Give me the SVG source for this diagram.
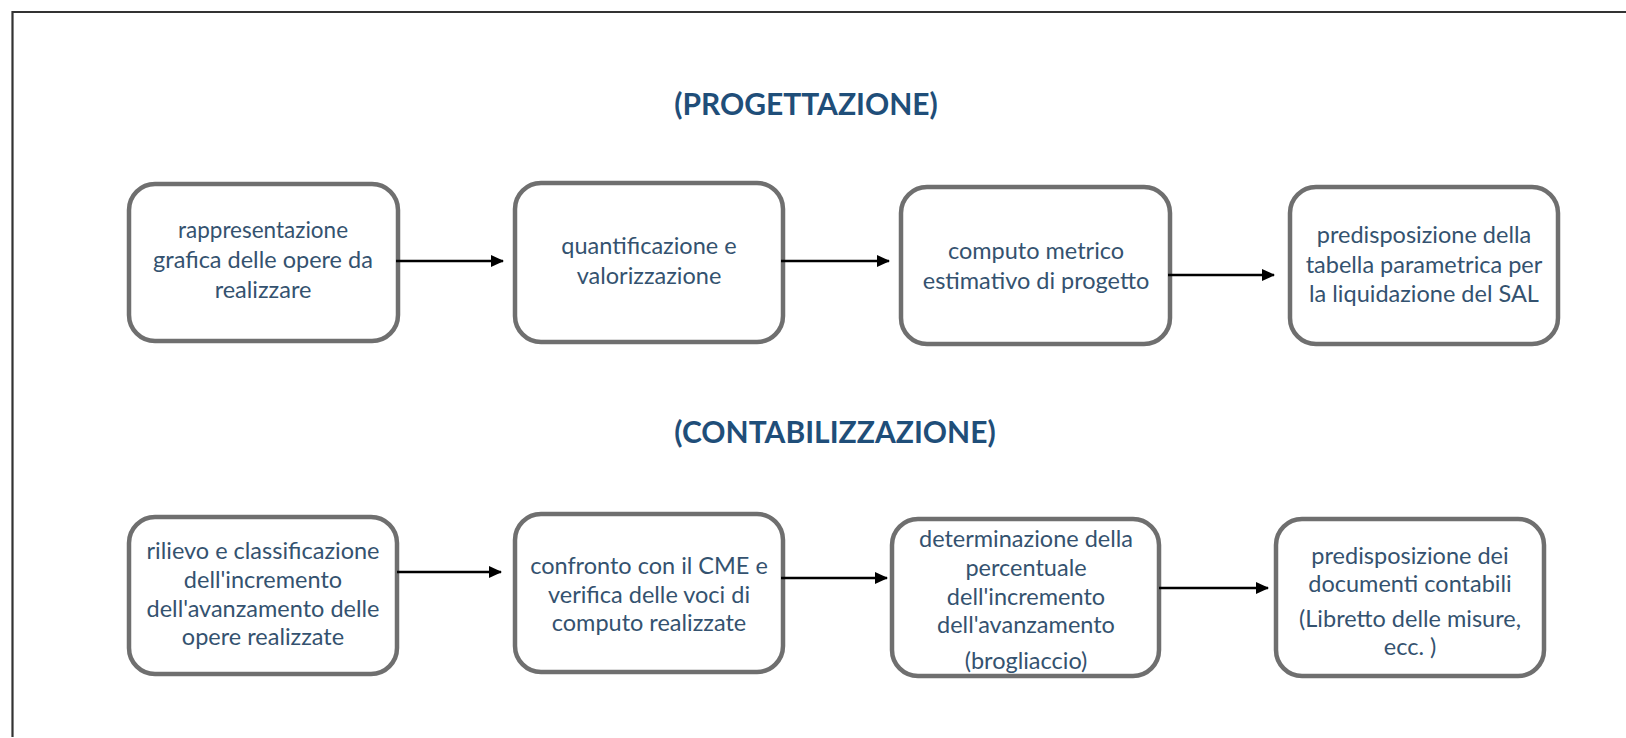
<svg xmlns="http://www.w3.org/2000/svg" width="1626" height="738" viewBox="0 0 1626 738">
<style>
.box{fill:#ffffff;stroke:#6f6f6f;stroke-width:4.5}
.t{font-family:Lato,"Open Sans","Liberation Sans",sans-serif;font-size:23.5px;fill:#34526f;text-anchor:middle}
.h{font-family:Lato,"Open Sans","Liberation Sans",sans-serif;font-size:30px;font-weight:bold;fill:#1f4e79;text-anchor:middle}
.c{stroke:#000;stroke-width:2.5;fill:none}
</style>
<defs>
<marker id="ah" markerWidth="13" markerHeight="12" refX="12" refY="6" orient="auto" markerUnits="userSpaceOnUse">
<path d="M0,0 L13,6 L0,12 Z" fill="#000"/>
</marker>
</defs>
<rect x="0" y="0" width="1626" height="738" fill="#ffffff"/>
<path d="M12.5,737 L12.5,12 L1626,12" fill="none" stroke="#333" stroke-width="2.2"/>
<g id="titles">
<text class="h" x="806" y="115">(PROGETTAZIONE)</text>
<text class="h" x="835" y="443">(CONTABILIZZAZIONE)</text>
</g>
<g id="n1"><rect class="box" x="129" y="184" width="269" height="157" rx="26"/>
<text class="t" x="263" y="238" style="font-size:22.5px">rappresentazione</text><text class="t" x="263" y="268">grafica delle opere da</text><text class="t" x="263" y="298">realizzare</text></g>
<g id="n2"><rect class="box" x="515" y="183" width="268" height="159" rx="26"/>
<text class="t" x="649" y="254">quantificazione e</text><text class="t" x="649" y="284">valorizzazione</text></g>
<g id="n3"><rect class="box" x="901" y="187" width="269" height="157" rx="26"/>
<text class="t" x="1036" y="259">computo metrico</text><text class="t" x="1036" y="289">estimativo di progetto</text></g>
<g id="n4"><rect class="box" x="1290" y="187" width="268" height="157" rx="26"/>
<text class="t" x="1424" y="243">predisposizione della</text><text class="t" x="1424" y="273">tabella parametrica per</text><text class="t" x="1424" y="302">la liquidazione del SAL</text></g>
<g id="n5"><rect class="box" x="129" y="517" width="268" height="157" rx="26"/>
<text class="t" x="263" y="559">rilievo e classificazione</text><text class="t" x="263" y="588">dell'incremento</text><text class="t" x="263" y="617">dell'avanzamento delle</text><text class="t" x="263" y="645">opere realizzate</text></g>
<g id="n6"><rect class="box" x="515" y="514" width="268" height="158" rx="26"/>
<text class="t" x="649" y="574">confronto con il CME e</text><text class="t" x="649" y="603">verifica delle voci di</text><text class="t" x="649" y="631">computo realizzate</text></g>
<g id="n7"><rect class="box" x="892" y="519" width="267" height="157" rx="26"/>
<text class="t" x="1026" y="547">determinazione della</text><text class="t" x="1026" y="576">percentuale</text><text class="t" x="1026" y="605">dell'incremento</text><text class="t" x="1026" y="633">dell'avanzamento</text><text class="t" x="1026" y="669">(brogliaccio)</text></g>
<g id="n8"><rect class="box" x="1276" y="519" width="268" height="157" rx="26"/>
<text class="t" x="1410" y="564">predisposizione dei</text><text class="t" x="1410" y="592">documenti contabili</text><text class="t" x="1410" y="627">(Libretto delle misure,</text><text class="t" x="1410" y="655">ecc. )</text></g>
<g id="connectors">
<line class="c" x1="396" y1="261" x2="503" y2="261" marker-end="url(#ah)"/>
<line class="c" x1="781" y1="261" x2="889" y2="261" marker-end="url(#ah)"/>
<line class="c" x1="1168" y1="275" x2="1274" y2="275" marker-end="url(#ah)"/>
<line class="c" x1="397" y1="572" x2="501" y2="572" marker-end="url(#ah)"/>
<line class="c" x1="781" y1="578" x2="887" y2="578" marker-end="url(#ah)"/>
<line class="c" x1="1159" y1="588" x2="1268" y2="588" marker-end="url(#ah)"/>
</g>
</svg>
